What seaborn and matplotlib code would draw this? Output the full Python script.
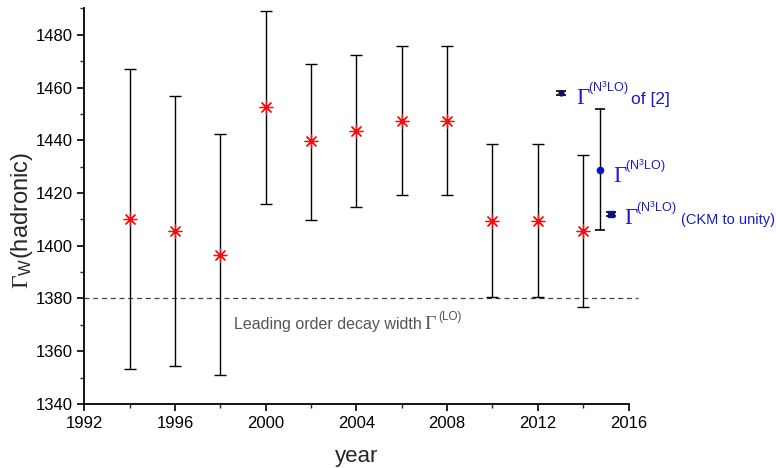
import matplotlib
matplotlib.use("Agg")
import matplotlib.pyplot as plt
import seaborn as sns
import pandas as pd
from matplotlib.ticker import MultipleLocator

# measured data
years = [1994, 1996, 1998, 2000, 2002, 2004, 2006, 2008, 2010, 2012, 2014]
width = [1410.3, 1405.5, 1396.4, 1452.6, 1439.6, 1443.5, 1447.3, 1447.3, 1409.5, 1409.5, 1405.4]
upper = [1467.2, 1456.7, 1442.2, 1489.0, 1469.0, 1472.4, 1475.7, 1475.7, 1438.6, 1438.6, 1434.5]
lower = [1353.2, 1354.2, 1351.1, 1415.7, 1409.9, 1414.7, 1419.2, 1419.2, 1380.4, 1380.4, 1376.6]

theory_x = [2013.0, 2014.74, 2015.22]
theory_y = [1458.0, 1428.7, 1411.9]
theory_lo = [1457.3, 1406.0, 1411.2]
theory_hi = [1458.7, 1451.7, 1412.6]
theory_suffix = ["of [2]", "", "(CKM to unity)"]

lo_width = 1380
xticks = [1992, 1996, 2000, 2004, 2008, 2012, 2016]
yticks = [1340, 1360, 1380, 1400, 1420, 1440, 1460, 1480]

df = pd.DataFrame({"year": years, "width": width})

sns.set_style("ticks")
plt.rcParams["font.family"] = ["Liberation Sans", "DejaVu Sans"]
plt.rcParams["mathtext.fontset"] = "custom"
plt.rcParams["mathtext.rm"] = "Liberation Serif"
plt.rcParams["mathtext.sf"] = "Liberation Sans"
plt.rcParams["mathtext.it"] = "Liberation Serif:italic"

fig = plt.figure(figsize=(7.76, 4.68), dpi=100)
ax = fig.add_axes([0.1085, 0.137, 0.7015, 0.845])

# experimental error bars
yerr = [[w - l for w, l in zip(width, lower)], [u - w for w, u in zip(width, upper)]]
ax.errorbar(years, width, yerr=yerr, fmt="none", ecolor="black", elinewidth=1.0,
            capsize=4.5, capthick=1.0, zorder=2)
sns.scatterplot(data=df, x="year", y="width", marker=(8, 2, 0), s=85,
                color="#ee1111", linewidth=0.9, edgecolor="#ee1111", ax=ax, zorder=3)

# theory points
terr = [[y - l for y, l in zip(theory_y, theory_lo)], [h - y for y, h in zip(theory_y, theory_hi)]]
ax.errorbar(theory_x, theory_y, yerr=terr, fmt="none", ecolor="black", elinewidth=1.0,
            capsize=3.5, capthick=1.2, zorder=2)
ax.plot([theory_x[0]], [theory_y[0]], "o", color="#101060", ms=3.5, zorder=3)
ax.plot([theory_x[1]], [theory_y[1]], "o", color="#0a14c8", ms=4.5, zorder=3)
ax.plot([theory_x[2]], [theory_y[2]], "s", color="#101080", ms=4, zorder=3)

# leading order line
ax.plot([1992, 2016.4], [lo_width, lo_width], ls=(0, (4, 3)), color="#444444", lw=0.9,
        clip_on=False, zorder=1)
ax.annotate("Leading order decay width", xy=(1998.6, 1368.3), color="#555555",
            fontsize=11.5, va="baseline", ha="left")
ax.annotate(r"$\Gamma$", xy=(1998.6, 1368.3), xytext=(137, 0), textcoords="offset points",
            color="#555555", fontsize=14, va="baseline", ha="left")
ax.annotate("(LO)", xy=(1998.6, 1368.3), xytext=(147, 7), textcoords="offset points",
            color="#555555", fontsize=8.5, va="baseline", ha="left")

blue = "#1a1acc"
# label anchors (baseline of the Gamma glyph), offsets in points
label_x = [2013.67, 2015.30, 2015.78]
label_y = [1453.8, 1424.3, 1408.4]
suffix_dx = [40, 0, 41]
suffix_fs = [12.5, 0, 10.5]
for lx, ly, suf, sdx, sfs in zip(label_x, label_y, theory_suffix, suffix_dx, suffix_fs):
    ax.annotate(r"$\Gamma$", xy=(lx, ly), color=blue, fontsize=16.5, va="baseline", ha="left",
                annotation_clip=False)
    ax.annotate(r"(N$^{\mathsf{3}}$LO)", xy=(lx, ly), xytext=(9, 8.5), textcoords="offset points",
                color=blue, fontsize=9, va="baseline", ha="left", annotation_clip=False)
    if suf:
        ax.annotate(suf, xy=(lx, ly), xytext=(sdx, 0), textcoords="offset points",
                    color=blue, fontsize=sfs, va="baseline", ha="left", annotation_clip=False)

ax.set_xlim(1992, 2016)
ax.set_ylim(1340, 1490)
ax.set_xticks(xticks)
ax.set_yticks(yticks)
ax.xaxis.set_minor_locator(MultipleLocator(2))
ax.yaxis.set_minor_locator(MultipleLocator(10))
ax.tick_params(which="major", direction="out", length=5, width=1.2, labelsize=12, colors="black")
ax.tick_params(which="minor", direction="out", length=3, width=1.0)
for s in ["left", "bottom"]:
    ax.spines[s].set_linewidth(1.3)
    ax.spines[s].set_color("black")
sns.despine(ax=ax)

ax.set_xlabel("year", fontsize=16, labelpad=11)
ax.set_ylabel(r"$\Gamma_{\mathsf{W}}$(hadronic)", fontsize=17)
ax.yaxis.set_label_coords(-0.09, 0.463)

fig.savefig("out.png", dpi=100)
